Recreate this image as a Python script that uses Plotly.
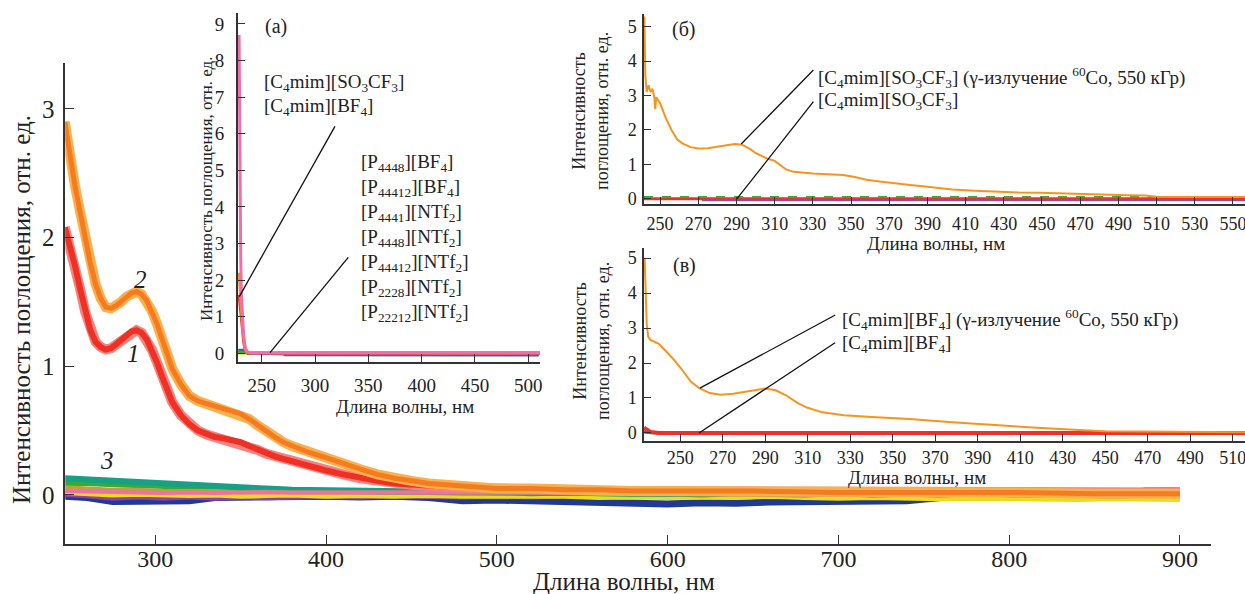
import plotly.graph_objects as go

W, H = 1245, 594
SERIF = "Liberation Serif"

# ---------------- main panel data ----------------
wl_main = [247, 250, 253, 256, 259, 262, 265, 268, 271, 274, 277, 280, 283, 286, 289, 292, 295, 298,
           301, 304, 307, 310, 315, 320, 325, 330, 335, 340, 345, 350, 355, 360, 365, 370, 375, 380,
           390, 400, 410, 420, 430, 440, 450, 460, 470, 480, 490, 500, 520, 540, 560, 580, 600,
           650, 700, 750, 800, 850, 900]
curve2 = [2.90, 2.62, 2.40, 2.20, 1.98, 1.80, 1.64, 1.53, 1.46, 1.45, 1.47, 1.50, 1.54, 1.57, 1.58, 1.56,
          1.51, 1.43, 1.33, 1.21, 1.09, 0.98, 0.86, 0.77, 0.73, 0.71, 0.69, 0.67, 0.65, 0.63, 0.59, 0.54,
          0.49, 0.45, 0.41, 0.38, 0.33, 0.29, 0.24, 0.20, 0.16, 0.13, 0.11, 0.09, 0.08, 0.07, 0.06, 0.05,
          0.05, 0.04, 0.04, 0.03, 0.03, 0.03, 0.02, 0.02, 0.02, 0.01, 0.01]
curve1 = [2.08, 1.94, 1.78, 1.60, 1.42, 1.28, 1.19, 1.15, 1.13, 1.14, 1.17, 1.20, 1.24, 1.27, 1.28, 1.26,
          1.21, 1.13, 1.03, 0.92, 0.81, 0.72, 0.62, 0.55, 0.50, 0.47, 0.45, 0.44, 0.43, 0.41, 0.38, 0.35,
          0.32, 0.30, 0.28, 0.26, 0.23, 0.19, 0.16, 0.13, 0.11, 0.09, 0.08, 0.07, 0.06, 0.06, 0.05, 0.05,
          0.04, 0.04, 0.03, 0.03, 0.03, 0.03, 0.02, 0.02, 0.02, 0.02, 0.02]

base_wl = [247, 260, 275, 290, 305, 320, 335, 350, 365, 380, 400, 420, 440, 460, 480, 500, 520, 540,
           560, 580, 600, 620, 640, 660, 680, 700, 720, 740, 760, 780, 800, 820, 840, 860, 880, 900]
base_teal = [0.13, 0.12, 0.11, 0.10, 0.09, 0.08, 0.07, 0.06, 0.05, 0.04, 0.035, 0.03, 0.03, 0.025, 0.02,
             0.02, 0.02, 0.015, 0.02, 0.015, 0.01, 0.015, 0.02, 0.015, 0.02, 0.01, 0.015, 0.02, 0.01,
             0.015, 0.02, 0.01, 0.02, 0.015, 0.01, 0.01]
base_green = [0.09, 0.09, 0.08, 0.07, 0.065, 0.06, 0.05, 0.045, 0.04, 0.035, 0.03, 0.025, 0.02, 0.02,
              0.015, 0.02, 0.01, 0.015, 0.01, 0.005, 0.01, 0.0, 0.01, 0.005, 0.0, 0.01, 0.0, 0.005, 0.0,
              0.01, 0.0, -0.005, 0.0, -0.01, 0.0, -0.005]
base_blue = [-0.01, -0.02, -0.05, -0.045, -0.05, -0.045, -0.02, -0.015, -0.01, -0.015, -0.01, -0.015,
             -0.01, -0.02, -0.045, -0.04, -0.045, -0.05, -0.06, -0.065, -0.07, -0.06, -0.065, -0.055,
             -0.05, -0.055, -0.05, -0.045, -0.02, -0.015, -0.01, -0.015, -0.01, 0.0, 0.03, 0.03]
base_yellow = [0.02, 0.01, 0.0, 0.005, 0.0, -0.005, 0.0, -0.01, -0.005, 0.0, -0.01, -0.005, -0.01,
               -0.005, -0.01, -0.01, -0.015, -0.01, -0.02, -0.015, -0.02, -0.015, -0.02, -0.01, -0.02,
               -0.025, -0.02, -0.025, -0.03, -0.025, -0.03, -0.03, -0.035, -0.03, -0.035, -0.035]
base_pink = [0.03, 0.025, 0.02, 0.02, 0.015, 0.02, 0.015, 0.02, 0.02, 0.015, 0.02, 0.02, 0.015, 0.02,
             0.02, 0.02, 0.015, 0.02, 0.02, 0.015, 0.02, 0.02, 0.015, 0.02, 0.02, 0.015, 0.02, 0.02,
             0.015, 0.02, 0.015, 0.02, 0.02, 0.015, 0.02, 0.02]
base_purple = [0.0, -0.01, -0.03, -0.02, -0.03, -0.02, -0.03, -0.02, -0.025, -0.02, -0.015, -0.02, -0.01,
               -0.015, -0.02, -0.015, -0.02, -0.01, -0.015, -0.02, -0.01, -0.015, -0.01, -0.02, -0.015,
               -0.01, -0.015, -0.01, -0.02, -0.015, -0.01, -0.015, -0.01, -0.02, -0.01, -0.015]
base_olive = [0.06, 0.05, 0.04, 0.04, 0.03, 0.03, 0.03, 0.02, 0.025, 0.02, 0.02, 0.02, 0.015, 0.02, 0.02,
              0.015, 0.02, 0.03, 0.025, 0.02, 0.02, 0.015, 0.02, 0.03, 0.02, 0.02, 0.015, 0.02, 0.01,
              0.02, 0.015, 0.01, 0.02, 0.01, 0.015, 0.01]

main_xticks = [300, 400, 500, 600, 700, 800, 900]
main_yticks = [0, 1, 2, 3]

# ---------------- inset (a) data ----------------
wl_a_pink = [228.8, 229.3, 229.8, 230.3, 231, 232, 233, 234, 235, 236.5, 238, 240, 300, 400, 511]
a_pink = [8.7, 6.0, 4.2, 2.7, 1.6, 0.9, 0.5, 0.25, 0.12, 0.05, 0.02, 0.01, 0.01, 0.01, 0.01]
wl_a_orange = [228.8, 229.5, 230.5, 231.5, 232.5, 233.5, 234.5, 236, 238, 300, 400, 511]
a_orange = [2.2, 1.8, 1.4, 1.0, 0.6, 0.3, 0.12, 0.04, 0.02, 0.02, 0.02, 0.02]
wl_a_red = [228.8, 230, 231, 232, 233, 234, 235.5, 237, 300, 400, 511]
a_red = [1.6, 1.3, 1.0, 0.65, 0.35, 0.15, 0.05, 0.01, 0.0, 0.0, 0.0]
wl_a_base = [228, 235, 237, 250, 270, 272, 300, 350, 400, 450, 500, 510]
a_blue = [0.08, 0.08, 0.0, -0.01, -0.01, -0.04, -0.04, -0.04, -0.05, -0.05, -0.05, -0.05]
a_green = [0.03, 0.03, 0.02, 0.02, 0.01, 0.01, 0.0, 0.01, 0.0, 0.0, 0.01, 0.01]
a_yellow = [0.0, 0.0, -0.01, -0.02, -0.02, -0.02, -0.03, -0.02, -0.03, -0.02, -0.02, -0.02]
a_xticks = [250, 300, 350, 400, 450, 500]
a_yticks = [0, 1, 2, 3, 4, 5, 6, 7, 8, 9]

# ---------------- inset (б) data ----------------
wl_b_irr = [241.8, 242.3, 243, 244, 245, 246, 247, 247.5, 248, 250, 253, 256, 259, 262, 266, 270, 275,
            280, 285, 289, 293, 297, 300, 303, 306, 310, 313, 316, 320, 325, 330, 335, 346, 352, 358,
            365, 372, 381, 390, 403, 415, 426, 438, 449, 460, 472, 484, 495, 504, 510, 520, 535, 557]
b_irr = [5.3, 3.6, 3.1, 3.3, 3.1, 3.2, 2.95, 2.6, 2.95, 2.78, 2.35, 2.0, 1.72, 1.6, 1.5, 1.46, 1.47,
         1.52, 1.56, 1.59, 1.57, 1.45, 1.33, 1.24, 1.17, 1.10, 0.97, 0.85, 0.78, 0.75, 0.73, 0.72, 0.69,
         0.63, 0.55, 0.50, 0.45, 0.40, 0.35, 0.27, 0.23, 0.20, 0.18, 0.17, 0.15, 0.12, 0.11, 0.10, 0.09,
         0.06, 0.05, 0.05, 0.05]
wl_b_base = [241.6, 272, 300, 350, 400, 450, 500, 557]
b_red = [0.0, 0.0, 0.0, 0.0, 0.0, 0.0, 0.0, 0.0]
b_green = [0.05, 0.05, 0.05, 0.04, 0.05, 0.05, 0.04, 0.05]
wl_b_blue = [272, 300, 350, 400, 450, 500, 557]
b_blue = [-0.03, -0.03, -0.03, -0.03, -0.03, -0.03, -0.03]
b_xticks = [250, 270, 290, 310, 330, 350, 370, 390, 410, 430, 450, 470, 490, 510, 530, 550]
b_yticks = [0, 1, 2, 3, 4, 5]

# ---------------- inset (в) data ----------------
wl_c_irr = [233.3, 233.8, 234.3, 235, 236, 240, 243, 247, 251, 255, 259, 264, 269, 275, 280, 285, 290,
            295, 300, 305, 310, 317, 327, 340, 358, 378, 399, 420, 440, 450, 465, 480, 500, 516]
c_irr = [5.0, 4.2, 3.1, 2.75, 2.66, 2.55, 2.37, 2.1, 1.8, 1.47, 1.28, 1.14, 1.09, 1.12, 1.17, 1.23, 1.27,
         1.22, 1.07, 0.87, 0.72, 0.59, 0.51, 0.46, 0.40, 0.31, 0.22, 0.14, 0.08, 0.05, 0.04, 0.03, 0.02,
         0.02]
wl_c_base = [233, 234, 236, 240, 300, 400, 516]
c_red = [0.15, 0.12, 0.03, 0.0, 0.0, 0.0, 0.0]
c_green = [0.03, 0.02, 0.01, 0.0, 0.0, 0.0, 0.0]
c_xticks = [250, 270, 290, 310, 330, 350, 370, 390, 410, 430, 450, 470, 490, 510]
c_yticks = [0, 1, 2, 3, 4, 5]

# ---------------- helpers ----------------
def fx(px):
    return px / W

def fy(py):
    return 1 - py / H

ORANGE = "#F47B20"
ORANGE_HALO = "#FAB04C"
RED = "#EE3124"
RED_HALO = "#F4837D"

fig = go.Figure()

def add(x, y, color, width, xa="x", ya="y", opacity=1.0, dash="solid"):
    fig.add_trace(go.Scatter(x=x, y=y, mode="lines", xaxis=xa, yaxis=ya,
                             line=dict(color=color, width=width, dash=dash), opacity=opacity,
                             showlegend=False, hoverinfo="skip"))

# main baseline group (curve 3)
add(base_wl, base_blue, "#1E3A93", 7)
add(base_wl, base_purple, "#8E3FA8", 4)
add(base_wl, base_yellow, "#E9DC1B", 5)
add(base_wl, base_green, "#3AA935", 5)
add(base_wl, base_teal, "#16A085", 6)
add(base_wl, base_olive, "#B8A23A", 4)
add(base_wl, base_pink, "#F06EAA", 4)
# curve 1 and 2
add(wl_main, curve1, RED_HALO, 10)
add(wl_main, curve1, RED, 6)
add(wl_main, curve2, ORANGE_HALO, 10)
add(wl_main, curve2, ORANGE, 5)

# inset a
add(wl_a_base, a_yellow, "#E9DC1B", 3, "x2", "y2")
add(wl_a_base, a_blue, "#2D6BB5", 3, "x2", "y2")
add(wl_a_base, a_green, "#3AA935", 3, "x2", "y2")
add(wl_a_red, a_red, RED, 3, "x2", "y2")
add(wl_a_orange, a_orange, "#F7941D", 3, "x2", "y2")
add(wl_a_pink, a_pink, "#F06EAA", 3, "x2", "y2")

# inset б
add(wl_b_blue, b_blue, "#6A5ACD", 3, "x3", "y3")
add(wl_b_base, b_red, RED, 3, "x3", "y3")
add(wl_b_base, b_green, "#3AA935", 2, "x3", "y3", dash="dash")
add(wl_b_irr, b_irr, "#F7941D", 2, "x3", "y3")

# inset в
add(wl_c_base, c_green, "#2E8B3A", 3, "x4", "y4")
add(wl_c_base, c_red, RED, 4, "x4", "y4")
add(wl_c_irr, c_irr, "#F7941D", 2, "x4", "y4")

AX = dict(showline=True, linecolor="#333333", linewidth=1.5, ticks="inside", tickcolor="#333333",
          tickwidth=1.3, showgrid=False, zeroline=False, automargin=False, mirror=False,
          ticklabeloverflow="allow")

fig.update_layout(
    width=W, height=H, margin=dict(l=0, r=0, t=0, b=0),
    paper_bgcolor="white", plot_bgcolor="rgba(0,0,0,0)",
    font=dict(family=SERIF, color="#222222"),
    xaxis=dict(AX, domain=[fx(65.3), fx(1210.7)], range=[247.3, 918], anchor="y",
               tickvals=main_xticks, ticklen=9, ticklabelstandoff=-8,
               tickfont=dict(size=24, family=SERIF)),
    yaxis=dict(AX, domain=[fy(544), fy(63)], range=[-0.381, 3.357], anchor="x",
               tickvals=main_yticks, ticklen=9, ticklabelstandoff=4,
               tickfont=dict(size=25, family=SERIF)),
    xaxis2=dict(AX, domain=[fx(237.7), fx(540)], range=[227.5, 511], anchor="y2",
                tickvals=a_xticks, ticklen=8, ticklabelstandoff=6,
                tickfont=dict(size=19, family=SERIF)),
    yaxis2=dict(AX, domain=[fy(361.7), fy(13)], range=[-0.23, 9.30], anchor="x2",
                tickvals=a_yticks, ticklen=8, ticklabelstandoff=8,
                tickfont=dict(size=19, family=SERIF)),
    xaxis3=dict(AX, domain=[fx(644), 1.0], range=[241.6, 556.3], anchor="y3",
                tickvals=b_xticks, ticklen=7, ticklabelstandoff=3,
                tickfont=dict(size=18, family=SERIF)),
    yaxis3=dict(AX, domain=[fy(204), fy(14)], range=[-0.154, 5.37], anchor="x3",
                tickvals=b_yticks, ticklen=7, ticklabelstandoff=2,
                tickfont=dict(size=18, family=SERIF)),
    xaxis4=dict(AX, domain=[fx(644), 1.0], range=[233, 515.8], anchor="y4",
                tickvals=c_xticks, ticklen=7,
                tickfont=dict(size=18, family=SERIF)),
    yaxis4=dict(AX, domain=[fy(441), fy(248)], range=[-0.229, 5.286], anchor="x4",
                tickvals=c_yticks, ticklen=7, ticklabelstandoff=2,
                tickfont=dict(size=18, family=SERIF)),
)

ann = []

def txt(px, py, text, size, xanchor="center", angle=0, italic=False):
    t = "<i>%s</i>" % text if italic else text
    ann.append(dict(x=fx(px), y=fy(py), xref="paper", yref="paper", text=t, showarrow=False,
                    xanchor=xanchor, yanchor="middle", textangle=angle,
                    font=dict(family=SERIF, size=size, color="#222222")))

Y_TITLE = "Интенсивность поглощения, отн. ед."
X_TITLE = "Длина волны, нм"
C4_SO3 = "[C<sub>4</sub>mim][SO<sub>3</sub>CF<sub>3</sub>]"
C4_BF4 = "[C<sub>4</sub>mim][BF<sub>4</sub>]"
IRR = " (γ-излучение <sup>60</sup>Co, 550 кГр)"

# main titles
txt(21, 310, Y_TITLE, 25, angle=-90)
txt(624, 581, X_TITLE, 25)
txt(140, 279, "2", 25, italic=True)
txt(133, 354, "1", 25, italic=True)
txt(107, 460, "3", 25, italic=True)

# inset a
txt(207, 189, Y_TITLE, 17, angle=-90)
txt(405, 406, X_TITLE, 19)
txt(276, 26, "(a)", 20)
txt(262, 83, C4_SO3, 19, xanchor="left")
txt(262, 107, C4_BF4, 19, xanchor="left")
for i, s in enumerate(["[P<sub>4448</sub>][BF<sub>4</sub>]", "[P<sub>44412</sub>][BF<sub>4</sub>]",
                       "[P<sub>4441</sub>][NTf<sub>2</sub>]", "[P<sub>4448</sub>][NTf<sub>2</sub>]",
                       "[P<sub>44412</sub>][NTf<sub>2</sub>]", "[P<sub>2228</sub>][NTf<sub>2</sub>]",
                       "[P<sub>22212</sub>][NTf<sub>2</sub>]"]):
    txt(359, 163 + 25 * i, s, 19, xanchor="left")

# inset б
txt(591, 111, "Интенсивность<br>поглощения, отн. ед.", 18, angle=-90)
txt(936, 243, X_TITLE, 19)
txt(684, 30, "(б)", 20)
txt(816, 77, C4_SO3 + IRR, 19, xanchor="left")
txt(816, 101, C4_SO3, 19, xanchor="left")

# inset в
txt(591, 341, "Интенсивность<br>поглощения, отн. ед.", 18, angle=-90)
txt(917, 477, X_TITLE, 19)
txt(684, 265, "(в)", 20)
txt(840, 319, C4_BF4 + IRR, 19, xanchor="left")
txt(840, 344, C4_BF4, 19, xanchor="left")

fig.update_layout(annotations=ann)

LN = dict(color="#111111", width=1.3)
shapes = [
    dict(type="line", xref="x2", yref="y2", x0=229, y0=1.55, x1=318.7, y1=6.2, line=LN),
    dict(type="line", xref="x2", yref="y2", x0=257.8, y0=0.02, x1=331.2, y1=2.62, line=LN),
    dict(type="line", xref="x3", yref="y3", x0=292.5, y0=1.59, x1=330.3, y1=3.74, line=LN),
    dict(type="line", xref="x3", yref="y3", x0=290.3, y0=0.0, x1=330.3, y1=2.82, line=LN),
    dict(type="line", xref="x4", yref="y4", x0=259.3, y0=1.28, x1=323, y1=3.37, line=LN),
    dict(type="line", xref="x4", yref="y4", x0=258.9, y0=0.0, x1=322.9, y1=2.58, line=LN),
]
fig.update_layout(shapes=shapes)

fig.write_html("out.html", config={"displayModeBar": False},
               post_script="document.body.style.margin='0px';document.body.style.padding='0px';")
